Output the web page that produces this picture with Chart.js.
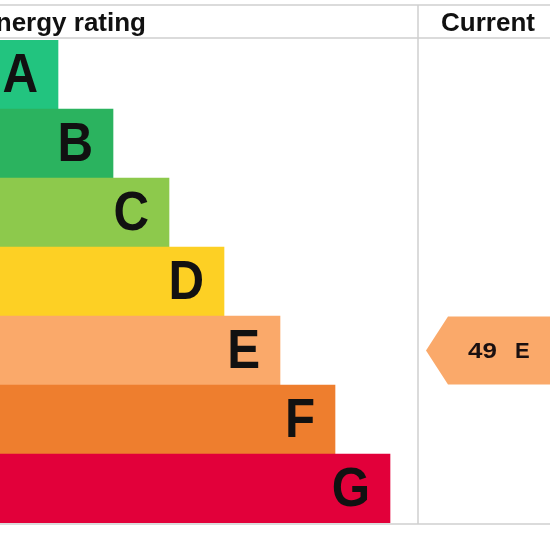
<!DOCTYPE html>
<html lang="en">
<head>
    <meta charset="UTF-8">
    <title>Energy rating</title>
    <style>
        body { margin: 0; background: #fff; }
        #wrap { width: 550px; height: 550px; position: relative; }
    </style>
</head>
<body>
    <div id="wrap"><canvas id="myChart"></canvas></div>

    <script src="https://cdn.jsdelivr.net/npm/chart.js@4"></script>
    <script>
        // bands and the right edge of each bar (as seen in the crop)
        const bands = ['A', 'B', 'C', 'D', 'E', 'F', 'G']
        const barEnds = [58, 113, 169, 224, 280, 335, 390]
        const bandColors = ['#22c47f', '#2bb35f', '#8dc94c', '#fdd024', '#faa96a', '#ee7e2e', '#e2003a']
        const currentScore = 49
        const currentBand = 'E'
        const headers = ['Energy rating', 'Current']

        const font = '"Liberation Sans", Arial, sans-serif'

        const epcPlugin = {
            id: 'epc',
            afterDatasetsDraw(chart) {
                const ctx = chart.ctx
                const xs = chart.scales.x
                const ys = chart.scales.y
                const area = chart.chartArea
                const colX = xs.getPixelForValue(xs.max)
                const W = chart.width

                // table lines
                ctx.save()
                ctx.strokeStyle = '#d0d0d0'
                ctx.lineWidth = 1.5
                ctx.beginPath()
                ctx.moveTo(0, 5); ctx.lineTo(W, 5)
                ctx.moveTo(0, area.top - 2); ctx.lineTo(W, area.top - 2)
                ctx.moveTo(0, area.bottom + 1); ctx.lineTo(W, area.bottom + 1)
                ctx.moveTo(colX, 5); ctx.lineTo(colX, area.bottom + 1)
                ctx.stroke()

                // headers
                ctx.fillStyle = '#111'
                ctx.font = 'bold 26px ' + font
                ctx.textBaseline = 'alphabetic'
                ctx.textAlign = 'right'
                ctx.fillText(headers[0], 146, 31)
                ctx.textAlign = 'center'
                ctx.fillText(headers[1], 488, 31)

                // band letters, slightly condensed
                ctx.font = 'bold 56px ' + font
                ctx.textAlign = 'right'
                ctx.textBaseline = 'middle'
                bands.forEach((b, i) => {
                    const x = xs.getPixelForValue(barEnds[i])
                    const y = ys.getPixelForValue(i)
                    ctx.save()
                    ctx.translate(x - 20, y + 2)
                    ctx.scale(0.88, 1)
                    ctx.fillStyle = '#111'
                    ctx.fillText(b, 0, 0)
                    ctx.restore()
                })

                // current rating arrow
                const idx = bands.indexOf(currentBand)
                const cy = ys.getPixelForValue(idx)
                const half = 34
                ctx.fillStyle = bandColors[idx]
                ctx.beginPath()
                ctx.moveTo(colX + 8, cy)
                ctx.lineTo(colX + 30, cy - half)
                ctx.lineTo(W, cy - half)
                ctx.lineTo(W, cy + half)
                ctx.lineTo(colX + 30, cy + half)
                ctx.closePath()
                ctx.fill()
                ctx.fillStyle = '#1a1010'
                ctx.font = 'bold 22px ' + font
                ctx.textAlign = 'left'
                ctx.save()
                ctx.translate(colX + 50, cy + 1)
                ctx.scale(1.18, 1)
                ctx.fillText(String(currentScore), 0, 0)
                ctx.restore()
                ctx.fillText(currentBand, colX + 97, cy + 1)
                ctx.restore()
            }
        }

        const ctx = document.getElementById('myChart').getContext('2d')
        const chart = new Chart(ctx, {
            type: 'bar',
            data: {
                labels: bands,
                datasets: [{
                    data: barEnds,
                    backgroundColor: bandColors,
                    borderWidth: 0,
                    barPercentage: 1,
                    categoryPercentage: 1
                }]
            },
            options: {
                indexAxis: 'y',
                responsive: true,
                maintainAspectRatio: false,
                animation: false,
                layout: { padding: { left: 0, right: 132, top: 40, bottom: 27 } },
                scales: {
                    x: { min: 0, max: 418, display: false },
                    y: { display: false }
                },
                plugins: {
                    legend: { display: false },
                    tooltip: { enabled: false }
                }
            },
            plugins: [epcPlugin]
        })
    </script>
</body>
</html>
